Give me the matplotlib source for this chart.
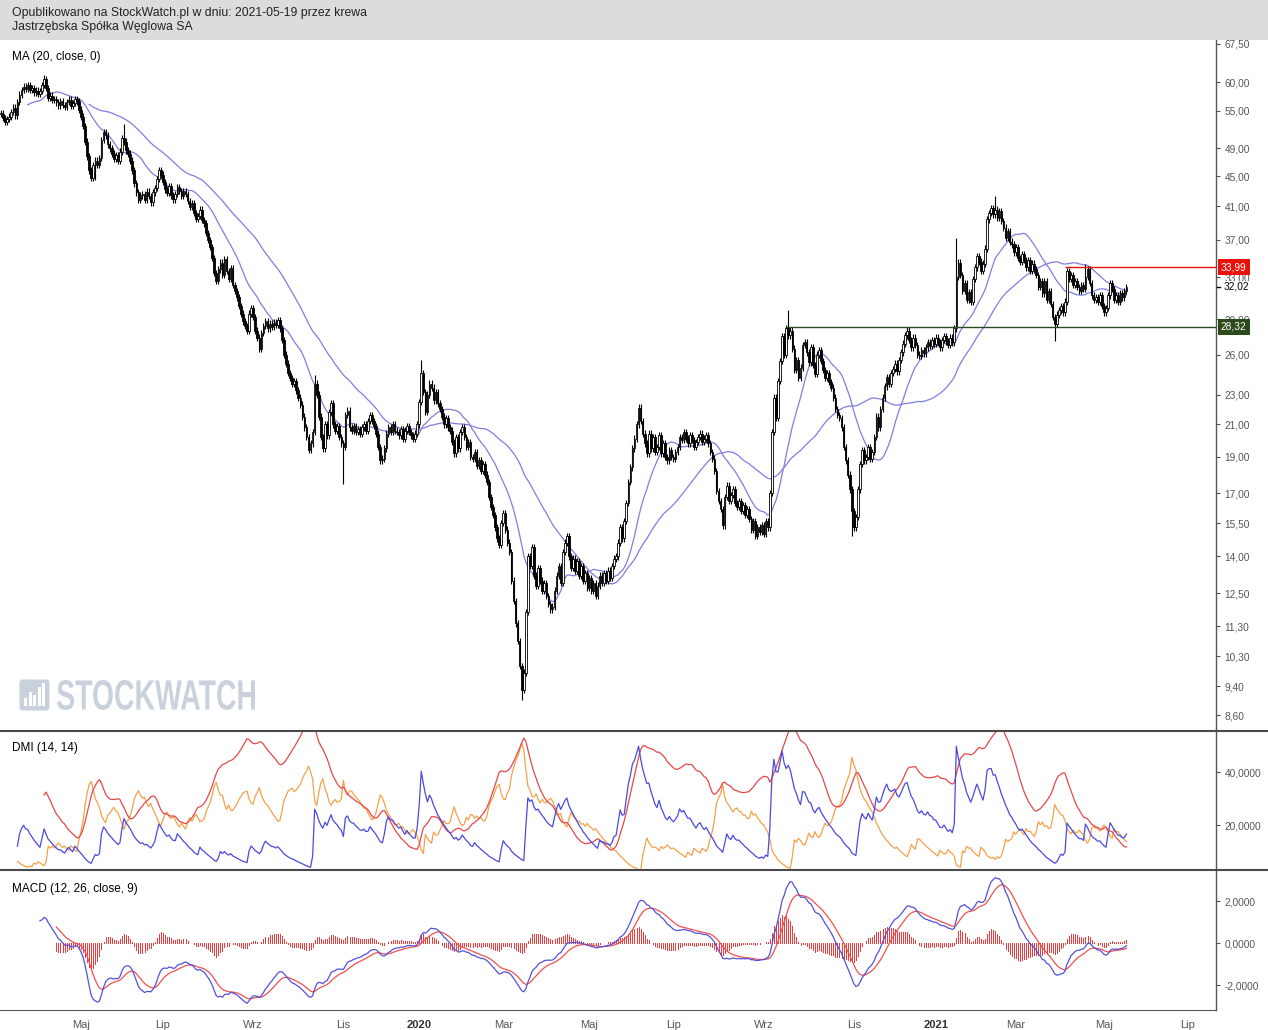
import numpy as np
import pandas as pd
import matplotlib
matplotlib.use("Agg")
import matplotlib.pyplot as plt
from matplotlib.patches import Rectangle, PathPatch, FancyBboxPatch
from matplotlib.textpath import TextPath
from matplotlib.font_manager import FontProperties
from matplotlib.transforms import IdentityTransform, Affine2D, blended_transform_factory
from matplotlib.ticker import NullLocator, FixedLocator

plt.rcParams['font.family'] = ['Liberation Sans', 'DejaVu Sans']

# ---------- dane: dzienne kursy zamknięcia JSW (ostatnia sesja 2021-05-19) ----------
close = [
    54.5, 53.8, 53.2, 53.6, 54.0, 54.8, 55.5, 54.2, 56.5, 57.8, 58.6, 59.2, 58.8, 59.5, 58.6, 58.9, 58.2, 58.5, 57.9, 58.4,
    59.5, 60.6, 59.0, 57.2, 57.6, 56.8, 57.0, 56.4, 55.9, 56.6, 56.0, 55.7, 56.5, 56.9, 55.8, 56.3, 57.0, 56.6, 55.2, 54.0,
    52.5, 50.0, 47.8, 45.8, 44.8, 46.5, 47.2, 46.6, 47.6, 50.3, 51.5, 51.0, 49.6, 49.0, 48.2, 47.4, 48.0, 47.1, 48.5, 50.5,
    50.0, 48.7, 48.2, 47.2, 45.8, 44.0, 42.8, 41.8, 42.4, 42.6, 41.8, 42.9, 42.3, 41.5, 42.8, 43.4, 44.6, 45.8, 45.2, 44.2,
    43.2, 42.7, 43.6, 42.4, 41.9, 42.6, 43.5, 43.0, 42.3, 43.0, 42.6, 41.7, 40.9, 41.4, 40.2, 39.5, 39.8, 40.6, 39.3, 38.9,
    37.8, 37.0, 36.2, 35.0, 33.4, 32.6, 33.8, 34.5, 33.2, 34.9, 33.6, 32.8, 33.9, 32.2, 31.6, 31.0, 30.2, 29.5, 28.8, 28.4,
    28.0, 29.5, 30.0, 29.2, 28.0, 27.4, 26.5, 27.8, 28.4, 28.8, 28.2, 28.6, 28.3, 28.7, 28.5, 28.9, 28.2, 27.2, 26.0, 25.3,
    24.6, 24.2, 23.8, 24.0, 23.3, 22.8, 22.3, 21.5, 20.8, 20.2, 19.4, 19.8, 20.5, 23.8, 23.0, 21.5, 20.2, 19.5, 21.0, 20.3,
    21.8, 22.4, 21.0, 20.6, 20.9, 20.2, 19.8, 19.6, 21.6, 21.9, 20.8, 20.6, 20.9, 20.5, 20.7, 20.4, 20.8, 21.0, 20.6, 21.2,
    21.6, 21.2, 20.9, 20.4, 19.6, 18.8, 18.9, 19.5, 20.4, 20.8, 20.5, 21.0, 20.6, 20.5, 20.3, 20.7, 20.1, 20.6, 20.9, 20.5,
    20.3, 20.1, 20.4, 21.0, 22.5, 24.6, 23.2, 21.8, 23.0, 23.8, 23.5, 22.6, 23.2, 22.4, 22.0, 21.5, 21.0, 21.4, 20.8, 20.6,
    19.9, 19.2, 20.2, 19.5, 20.5, 20.8, 20.2, 19.6, 19.9, 19.0, 18.9, 19.3, 18.5, 18.8, 18.2, 18.6, 18.0, 17.6, 16.8, 16.3,
    15.9, 15.3, 14.8, 14.5, 15.5, 16.0, 15.2, 14.6, 14.2, 13.0, 12.2, 11.4, 10.8, 10.0, 9.3, 9.8, 11.8, 14.0, 13.6, 14.4,
    13.2, 12.8, 13.5, 13.0, 12.6, 12.9, 12.4, 12.1, 11.9, 12.0, 12.6, 13.2, 13.6, 12.9, 14.2, 14.6, 14.9, 14.0, 13.5, 13.9,
    13.4, 13.8, 13.2, 13.6, 13.0, 13.3, 12.7, 13.1, 12.6, 12.9, 12.4, 12.8, 13.2, 12.9, 13.3, 13.0, 13.4, 13.1, 13.6, 13.9,
    14.0, 14.6, 15.3, 14.8, 15.6, 16.5, 17.6, 18.4, 19.5, 20.1, 21.0, 22.1, 21.2, 20.4, 19.8, 19.2, 20.4, 19.5, 20.2, 19.3,
    19.6, 20.3, 19.2, 19.8, 19.0, 18.8, 19.4, 19.0, 18.9, 19.3, 19.6, 20.2, 20.0, 20.5, 20.1, 19.8, 20.3, 20.0, 19.6, 19.9,
    20.2, 20.4, 19.9, 20.1, 20.3, 19.8, 19.3, 18.9, 18.2, 17.1, 16.6, 16.2, 15.4, 16.8, 17.4, 16.6, 16.9, 17.2, 16.5, 16.3,
    16.6, 16.1, 16.4, 15.9, 16.2, 15.7, 15.2, 15.6, 14.9, 15.3, 15.1, 15.4, 15.0, 15.6, 15.3, 17.0, 20.5, 22.8, 21.4, 24.0,
    25.5, 27.5, 26.0, 28.2, 27.6, 28.0, 26.5, 24.8, 25.6, 24.2, 25.0, 26.8, 27.0, 26.2, 25.4, 26.6, 25.2, 24.5, 26.0, 26.4,
    25.5, 24.8, 24.2, 24.6, 23.9, 23.5, 22.8, 22.0, 21.6, 21.4, 20.8, 19.6, 18.8, 18.0, 17.2, 16.1, 15.3, 15.8, 17.2, 18.6,
    19.4, 18.8, 19.0, 19.6, 18.9, 19.3, 20.2, 21.5, 20.8, 22.0, 22.8, 23.6, 24.3, 23.8, 24.6, 24.9, 25.3, 24.7, 25.6, 26.2,
    26.9, 27.6, 28.0, 27.2, 26.6, 27.4, 26.8, 26.0, 25.9, 26.4, 26.1, 26.6, 27.0, 26.7, 27.2, 26.9, 27.4, 27.0, 26.6, 27.2,
    27.5, 27.1, 26.8, 27.4, 27.0, 28.2, 33.0, 34.5, 33.2, 31.6, 32.4, 30.8, 31.5, 30.6, 32.8, 34.0, 35.2, 34.6, 33.6, 34.4,
    36.0, 39.4, 40.2, 40.8, 40.0, 40.6, 39.6, 40.4, 39.2, 38.4, 37.2, 38.0, 36.8, 36.5, 35.6, 36.2, 35.0, 34.6, 35.4, 34.8,
    34.0, 34.8, 33.6, 34.4, 33.8, 33.2, 32.0, 32.6, 31.4, 32.6, 30.8, 31.6, 30.4, 29.2, 28.6, 29.4, 29.8, 30.2, 29.6, 30.6,
    33.6, 32.8, 33.2, 32.2, 32.6, 32.0, 31.6, 32.2, 31.8, 33.0, 33.8, 32.4, 31.2, 30.8, 31.0, 30.6, 31.2, 30.2, 29.6, 30.0,
    31.2, 32.4, 31.8, 30.8, 31.2, 30.6, 31.4, 31.0, 31.6, 32.02,
]

# najwyraźniejsze cienie świec (indeks sesji -> cena)
wick_high = {21: 61.3, 60: 52.8, 153: 24.4, 205: 25.6, 311: 22.3, 384: 29.8, 466: 37.2, 485: 42.3, 529: 34.3}
wick_low = {46: 44.5, 167: 17.5, 254: 9.0, 415: 14.9, 514: 27.1}
wick_pct = 0.01   # typowy cień świecy (ułamek ceny)

holidays = ["2019-04-19", "2019-04-22", "2019-05-01", "2019-05-03", "2019-06-20", "2019-08-15",
            "2019-11-01", "2019-11-11", "2019-12-24", "2019-12-25", "2019-12-26", "2019-12-31",
            "2020-01-01", "2020-01-06", "2020-04-10", "2020-04-13", "2020-05-01", "2020-06-11",
            "2020-11-11", "2020-12-24", "2020-12-25", "2020-12-31", "2021-01-01", "2021-01-06",
            "2021-04-02", "2021-04-05", "2021-05-03", "2021-06-03"]

price_ticks = [67.5, 60, 55, 49, 45, 41, 37, 33, 29, 26, 23, 21, 19, 17, 15.5, 14, 12.5, 11.3, 10.3, 9.4, 8.6]
month_names = {1: "Sty", 3: "Mar", 5: "Maj", 7: "Lip", 9: "Wrz", 11: "Lis"}

resistance, resistance_from = 33.99, "2021-04-06"
support, support_from = 28.32, "2020-09-16"

# ---------- kalendarz sesji ----------
days = pd.bdate_range("2019-01-01", "2021-08-31")
days = days[~days.isin(pd.to_datetime(holidays))]
end = days.get_loc(pd.Timestamp("2021-05-19"))
days = days[end - len(close) + 1:]

c = np.array(close)
n = len(c)
x = np.arange(n)
o = np.r_[c[0], c[:-1]]
hi = np.maximum(o, c) * (1 + wick_pct)
lo = np.minimum(o, c) * (1 - wick_pct)
for k, v in wick_high.items():
    hi[k] = max(hi[k], v)
for k, v in wick_low.items():
    lo[k] = min(lo[k], v)

# ---------- wskaźniki ----------
s = pd.Series(c)
ma20 = s.rolling(20, min_periods=14).mean()
ma50 = s.rolling(50, min_periods=44).mean()

ema12 = s.ewm(span=12, adjust=False).mean()
ema26 = s.ewm(span=26, adjust=False).mean()
macd = ema12 - ema26
signal = macd.ewm(span=9, adjust=False).mean()
hist = (macd - signal).to_numpy()
macd[:19] = np.nan
signal[:27] = np.nan
hist[:27] = np.nan

up_move = np.r_[0, hi[1:] - hi[:-1]]
dn_move = np.r_[0, lo[:-1] - lo[1:]]
pdm = np.where((up_move > dn_move) & (up_move > 0), up_move, 0.0)
mdm = np.where((dn_move > up_move) & (dn_move > 0), dn_move, 0.0)
pc = np.r_[c[0], c[:-1]]
tr = np.maximum(hi - lo, np.maximum(abs(hi - pc), abs(lo - pc)))
wild = lambda a: pd.Series(a).ewm(alpha=1/14, adjust=False).mean()
atr = wild(tr)
pdi = 100 * wild(pdm) / atr
mdi = 100 * wild(mdm) / atr
dx = (100 * (pdi - mdi).abs() / (pdi + mdi)).to_numpy()
di_start = 8
adx = np.full(n, np.nan)
adx[di_start:] = wild(np.r_[0.0, dx[di_start + 1:]]).to_numpy()   # ADX startuje od zera
pdi[:di_start] = np.nan
mdi[:di_start] = np.nan
adx[:21] = np.nan

# ---------- układ ----------
W, H = 1268, 1030
fig = plt.figure(figsize=(W / 100, H / 100), dpi=100)

def box(l, t, r, b):
    return [l / W, 1 - b / H, (r - l) / W, (b - t) / H]

ax_p = fig.add_axes(box(0, 40, 1216, 731))
ax_d = fig.add_axes(box(0, 731, 1216, 869))
ax_m = fig.add_axes(box(0, 870, 1216, 1010))

px_per_day = 2.05
xmin = -0.5
xmax = xmin + 1216 / px_per_day

gray = "#555555"
for ax in (ax_p, ax_d, ax_m):
    ax.set_xlim(xmin, xmax)
    for sp in ("top", "left", "bottom"):
        ax.spines[sp].set_visible(False)
    ax.spines["right"].set_color(gray)
    ax.spines["right"].set_linewidth(1.0)
    ax.yaxis.tick_right()
    ax.tick_params(axis="y", direction="out", length=3, width=0.8, colors=gray,
                   labelsize=7.3, labelcolor=gray, pad=3)
    ax.set_xticks([])
ax_m.spines["bottom"].set_visible(True)
ax_m.spines["bottom"].set_color(gray)

# --- panel cenowy ---
ax_p.set_yscale("log")
ax_p.set_ylim(8.19, 68.33)
ax_p.yaxis.set_major_locator(FixedLocator(price_ticks))
ax_p.yaxis.set_minor_locator(NullLocator())
ax_p.set_yticklabels([f"{v:.2f}".replace(".", ",") for v in price_ticks])

ax_p.plot(x, ma50, color="#7e7ee0", lw=0.9, zorder=2)
ax_p.plot(x, ma20, color="#7e7ee0", lw=0.9, zorder=2)

up = c >= o
body_lo = np.minimum(o, c)
body_h = np.maximum(np.abs(c - o), c * 0.003)
ax_p.vlines(x, lo, hi, color="black", lw=0.8, zorder=3)
ax_p.bar(x[up], body_h[up], bottom=body_lo[up], width=0.8, facecolor="white",
         edgecolor="black", linewidth=0.6, zorder=4)
ax_p.bar(x[~up], body_h[~up], bottom=body_lo[~up], width=0.8, color="black",
         edgecolor="black", linewidth=0.6, zorder=4)

r0 = days.get_loc(pd.Timestamp(resistance_from))
s0 = days.get_loc(pd.Timestamp(support_from))
ax_p.hlines(resistance, r0, xmax, color="#e8120c", lw=1.0, zorder=5)
ax_p.hlines(support, s0, xmax, color="#2c4a1c", lw=1.0, zorder=5)

ytr = blended_transform_factory(ax_p.transAxes, ax_p.transData)
ax_p.text(1.004, resistance, f"{resistance:.2f}".replace(".", ","), transform=ytr, ha="left", va="center",
          fontsize=7.3, color="white", zorder=10, clip_on=False,
          bbox=dict(boxstyle="square,pad=0.3", fc="#e8120c", ec="none"))
ax_p.text(1.004, support, f"{support:.2f}".replace(".", ","), transform=ytr, ha="left", va="center",
          fontsize=7.3, color="white", zorder=10, clip_on=False,
          bbox=dict(boxstyle="square,pad=0.3", fc="#2c4a1c", ec="none"))
ax_p.text(1.0065, c[-1], f"{c[-1]:.2f}".replace(".", ","), transform=ytr, ha="left", va="center",
          fontsize=7.3, color="black", zorder=10, clip_on=False,
          bbox=dict(boxstyle="square,pad=0.1", fc="white", ec="none"))
ax_p.plot([1.0005, 1.0035], [c[-1], c[-1]], transform=ytr, color="black", lw=1.0, clip_on=False, zorder=11)

# --- DMI ---
ax_d.set_ylim(3.4, 55.5)
ax_d.set_yticks([20, 40])
ax_d.set_yticklabels(["20,0000", "40,0000"])
ax_d.plot(x, mdi, color="#f4a24a", lw=0.9)
ax_d.plot(x, adx, color="#e8474a", lw=0.9)
ax_d.plot(x, pdi, color="#4a4ae0", lw=0.9)

# --- MACD ---
ax_m.set_ylim(-3.19, 3.48)
ax_m.set_yticks([-2, 0, 2])
ax_m.set_yticklabels(["-2,0000", "0,0000", "2,0000"])
ok = ~np.isnan(hist)
ax_m.vlines(x[ok], 0, hist[ok], colors="#f03c3c", lw=0.6, antialiased=False, zorder=2)
ax_m.plot(x, signal, color="#f05050", lw=0.9, zorder=3)
ax_m.plot(x, macd, color="#5252dd", lw=0.9, zorder=3)

# oś czasu
all_days = pd.bdate_range(days[0], "2021-08-31")
all_days = all_days[~all_days.isin(pd.to_datetime(holidays))]
tick_pos, tick_lab = [], []
for m in pd.date_range("2019-05-01", "2021-07-01", freq="2MS"):
    tick_pos.append(all_days.searchsorted(m))
    tick_lab.append(str(m.year) if m.month == 1 else month_names[m.month])
ax_m.set_xticks(tick_pos)
ax_m.set_xticklabels(tick_lab)
ax_m.tick_params(axis="x", length=0, pad=7, labelsize=8, labelcolor=gray)
for t in ax_m.get_xticklabels():
    if t.get_text().isdigit():
        t.set_fontweight("bold")
        t.set_color("#333333")

# ---------- nagłówek, separatory, podpisy ----------
fig.patches.append(Rectangle((0, 1 - 40 / H), 1, 40 / H, transform=fig.transFigure,
                             facecolor="#dcdcdc", edgecolor="none", zorder=0))
fig.text(12 / W, 1 - 13 / H, "Opublikowano na StockWatch.pl w dniu: 2021-05-19 przez krewa",
         fontsize=8.8, va="center", color="#222222")
fig.text(12 / W, 1 - 27 / H, "Jastrzębska Spółka Węglowa SA", fontsize=8.8, va="center", color="#222222")

for yy in (731, 869.5):
    fig.add_artist(plt.Line2D([0, 1], [1 - yy / H, 1 - yy / H], transform=fig.transFigure,
                              color="#4a4a4a", lw=1.5))

fig.text(12 / W, 1 - 57 / H, "MA (20, close, 0)", fontsize=8.5, va="center")
fig.text(12 / W, 1 - 748 / H, "DMI (14, 14)", fontsize=8.5, va="center")
fig.text(12 / W, 1 - 889 / H, "MACD (12, 26, close, 9)", fontsize=8.5, va="center")

# ---------- znak wodny ----------
wm = "#c9d2dc"
tp = TextPath((0, 0), "STOCKWATCH", size=1, prop=FontProperties(family="Liberation Sans", weight="bold"))
ext = tp.get_extents()
tf = Affine2D().translate(-ext.x0, -ext.y0).scale(198 / ext.width, 30 / ext.height).translate(57, H - 710)
fig.add_artist(PathPatch(tf.transform_path(tp), facecolor=wm, edgecolor="none", transform=IdentityTransform()))
fig.add_artist(FancyBboxPatch((21, H - 709), 27, 28, boxstyle="round,pad=1.5,rounding_size=3",
                              facecolor=wm, edgecolor="none", transform=IdentityTransform()))
for i, hb in enumerate([8, 14, 11, 19, 23]):
    fig.add_artist(Rectangle((24 + i * 4.6, H - 706), 3, hb, facecolor="white", edgecolor="none",
                             transform=IdentityTransform()))

fig.savefig("out.png", dpi=100)
